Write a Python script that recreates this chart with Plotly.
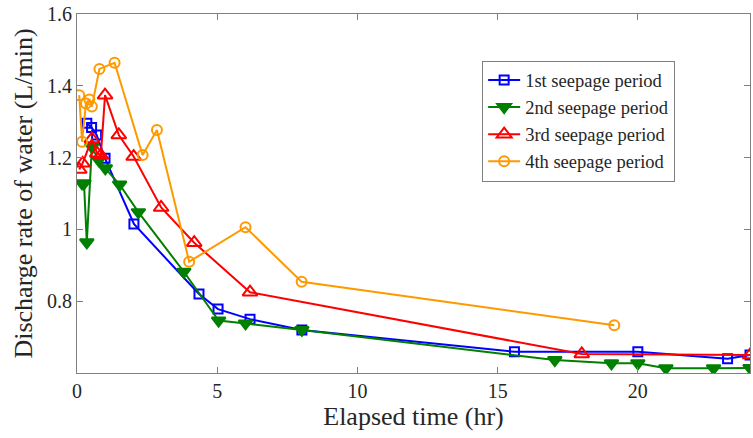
import plotly.graph_objects as go

# 1st seepage period
x1 = [0.35, 0.52, 0.70, 1.0, 2.03, 4.35, 5.03, 6.17, 8.02, 15.6, 20.0, 23.2, 24.0]
y1 = [1.296, 1.284, 1.263, 1.198, 1.015, 0.820, 0.778, 0.750, 0.720, 0.659, 0.659, 0.640, 0.650]

# 2nd seepage period
x2 = [0.18, 0.25, 0.35, 0.53, 0.77, 1.01, 1.52, 2.19, 3.81, 5.05, 6.01, 8.02, 17.04, 19.06, 20.0, 21.0, 22.7, 24.0]
y2 = [1.128, 1.128, 0.964, 1.230, 1.193, 1.170, 1.125, 1.048, 0.882, 0.746, 0.738, 0.720, 0.636, 0.627, 0.627, 0.613, 0.613, 0.614]

# 3rd seepage period
x3 = [0.08, 0.20, 0.53, 0.72, 0.85, 1.0, 1.49, 2.02, 3.0, 4.18, 6.17, 18.0, 24.0]
y3 = [1.167, 1.184, 1.252, 1.212, 1.206, 1.374, 1.263, 1.203, 1.061, 0.963, 0.825, 0.653, 0.650]

# 4th seepage period
x4 = [0.08, 0.18, 0.32, 0.44, 0.53, 0.80, 1.34, 2.34, 2.85, 4.0, 6.01, 8.01, 19.16]
y4 = [1.374, 1.244, 1.351, 1.362, 1.342, 1.447, 1.464, 1.207, 1.277, 0.910, 1.006, 0.854, 0.733]

names = ["1st seepage period", "2nd seepage period", "3rd seepage period", "4th seepage period"]
colors = ["#0000FF", "#007F00", "#FF0000", "#FF9900"]
symbols = ["square-open", "triangle-down", "triangle-up-open", "circle-open"]
sizes = [9, 12, 13, 10]

xtick_vals = [0, 5, 10, 15, 20]
ytick_vals = [0.8, 1.0, 1.2, 1.4, 1.6]
ytick_text = ["0.8", "1", "1.2", "1.4", "1.6"]

fig = go.Figure()
for xs, ys, nm, c, s, sz in zip([x1, x2, x3, x4], [y1, y2, y3, y4], names, colors, symbols, sizes):
    fig.add_trace(go.Scatter(
        x=xs, y=ys, name=nm, mode="lines+markers",
        line=dict(color=c, width=2),
        marker=dict(symbol=s, size=sz, color=c, line=dict(color=c, width=2)),
    ))

font_family = "Liberation Serif"
fig.update_layout(
    width=753, height=438,
    margin=dict(l=77, r=3, t=14, b=65),
    paper_bgcolor="white", plot_bgcolor="white",
    font=dict(family=font_family, color="#262626", size=20),
    showlegend=True,
    legend=dict(
        x=0.602, y=0.5, xanchor="left", yanchor="middle",
        bgcolor="white", bordercolor="#7f7f7f", borderwidth=1,
        font=dict(family=font_family, size=18.5, color="#262626"),
        tracegroupgap=0, itemwidth=32,
    ),
    xaxis=dict(
        range=[0, 24], tickvals=xtick_vals, ticks="inside", ticklen=6,
        showline=True, linecolor="#808080", linewidth=1, mirror="ticks",
        tickcolor="#808080", showgrid=False, zeroline=False,
        title=dict(text="Elapsed time (hr)", font=dict(size=26), standoff=2),
        tickfont=dict(size=20),
    ),
    yaxis=dict(
        range=[0.6, 1.6], tickvals=ytick_vals, ticktext=ytick_text,
        ticks="inside", ticklen=6,
        showline=True, linecolor="#808080", linewidth=1, mirror="ticks",
        tickcolor="#808080", showgrid=False, zeroline=False,
        title=dict(text="Discharge rate of water (L/min)", font=dict(size=26), standoff=6),
        tickfont=dict(size=20),
    ),
)
# center legend vertically around y ~ 121 px (paper coords of the plot area)
fig.update_layout(legend=dict(y=1 - (121 - 14) / 359))

fig.write_html("out.html")
